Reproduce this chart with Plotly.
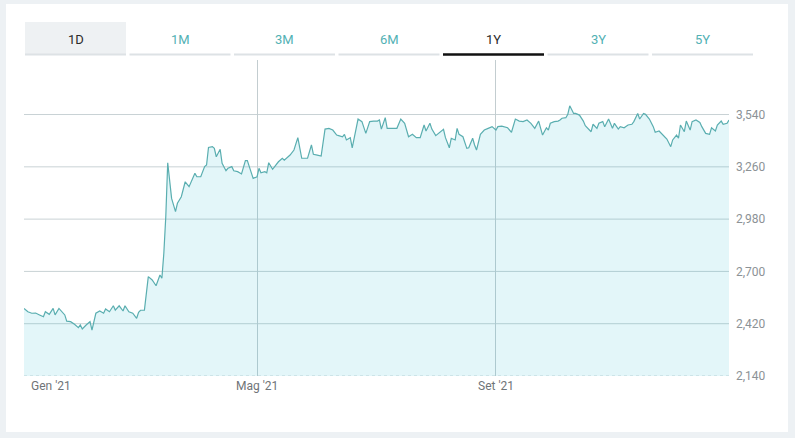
import plotly.graph_objects as go
import pandas as pd

# ---------------- data ----------------
day_offset = [0, 2, 4, 6, 8, 10, 11, 13, 15, 16, 18, 20, 21, 22, 24, 26, 28, 29, 30, 32,
              34, 35, 37, 39, 41, 42, 44, 46, 47, 49, 51, 52, 54, 56, 58, 59, 60, 62, 64, 66,
              68, 70, 71, 72, 73, 74, 75, 76, 78, 79, 81, 83, 85, 88, 89, 91, 93, 94, 95, 97,
              98, 99, 101, 102, 104, 105, 107, 108, 110, 112, 114, 115, 116, 118, 120, 121, 122, 124, 125, 126,
              128, 129, 131, 133, 134, 136, 137, 139, 141, 143, 146, 148, 149, 151, 153, 155, 157, 159, 161, 162,
              164, 165, 166, 168, 169, 172, 174, 176, 178, 180, 182, 183, 184, 186, 187, 190, 192, 194, 196, 198,
              200, 202, 204, 206, 207, 209, 210, 212, 214, 216, 217, 219, 220, 222, 223, 224, 226, 228, 229, 231,
              232, 233, 235, 237, 239, 241, 243, 244, 246, 249, 251, 253, 255, 257, 259, 261, 263, 265, 267, 269,
              270, 271, 273, 275, 276, 277, 279, 280, 281, 283, 284, 286, 288, 289, 292, 293, 295, 296, 298, 299,
              301, 303, 304, 306, 307, 309, 311, 313, 314, 316, 317, 319, 320, 322, 324, 325, 327, 329, 331, 333,
              334, 336, 337, 338, 340, 341, 343, 344, 346, 348, 349, 351, 353, 354, 356, 357, 359, 360, 362, 363]

price = [2502, 2484, 2476, 2477, 2467, 2457, 2484, 2470, 2502, 2467, 2502, 2476, 2467, 2434, 2431, 2417, 2399, 2413, 2392, 2413,
         2431, 2386, 2476, 2488, 2476, 2499, 2484, 2516, 2493, 2516, 2488, 2516, 2484, 2476, 2449, 2481, 2492, 2493, 2672, 2654,
         2623, 2681, 2663, 2797, 2993, 3282, 3172, 3091, 3020, 3065, 3100, 3180, 3154, 3225, 3207, 3207, 3261, 3270, 3364, 3368,
         3359, 3314, 3354, 3279, 3239, 3252, 3261, 3239, 3234, 3222, 3293, 3293, 3261, 3198, 3207, 3252, 3228, 3234, 3228, 3282,
         3247, 3261, 3287, 3306, 3296, 3314, 3323, 3350, 3416, 3306, 3306, 3377, 3327, 3323, 3318, 3462, 3466, 3457, 3430, 3427,
         3421, 3434, 3404, 3416, 3362, 3516, 3502, 3439, 3502, 3505, 3505, 3511, 3462, 3523, 3466, 3466, 3466, 3516, 3493, 3421,
         3434, 3416, 3416, 3484, 3452, 3493, 3462, 3427, 3445, 3461, 3416, 3362, 3413, 3404, 3466, 3434, 3421, 3359, 3362, 3413,
         3377, 3350, 3434, 3457, 3466, 3475, 3457, 3475, 3478, 3469, 3445, 3516, 3505, 3502, 3511, 3493, 3466, 3505, 3430, 3469,
         3457, 3493, 3502, 3505, 3511, 3520, 3523, 3541, 3587, 3546, 3546, 3537, 3505, 3480, 3448, 3488, 3466, 3493, 3502, 3475,
         3516, 3466, 3493, 3462, 3475, 3469, 3484, 3488, 3502, 3546, 3516, 3546, 3541, 3516, 3475, 3445, 3452, 3430, 3409, 3368,
         3404, 3430, 3413, 3484, 3448, 3505, 3457, 3502, 3511, 3498, 3475, 3439, 3434, 3469, 3452, 3484, 3505, 3488, 3493, 3511]

start_date = "2021-01-01"
end_date = "2021-12-30"
y_ticks = [2140, 2420, 2700, 2980, 3260, 3540]
y_range = [2140, 3832]
x_tick_dates = ["2021-01-01", "2021-05-01", "2021-09-01"]
x_tick_labels = ["Gen '21", "Mag '21", "Set '21"]
tabs = ["1D", "1M", "3M", "6M", "1Y", "3Y", "5Y"]
shaded_tab = "1D"
active_tab = "1Y"

dates = pd.Timestamp(start_date) + pd.to_timedelta(day_offset, unit="D")

# ---------------- layout helpers ----------------
W_FIG, H_FIG = 795, 438
L, R, T, B = 24, 66, 60, 62
PW, PH = W_FIG - L - R, H_FIG - T - B


def px_x(px):
    return (px - L) / PW


def px_y(py):
    return (H_FIG - B - py) / PH


LINE_COLOR = "#5aaeb0"
TEAL_TXT = "#52b1b4"
GRID = "#c9d2d5"

fig = go.Figure()
fig.add_trace(go.Scatter(
    x=dates, y=price, mode="lines",
    line=dict(color=LINE_COLOR, width=1.2),
    fill="tozeroy", fillcolor="rgba(0,175,200,0.11)",
    hoverinfo="x+y", showlegend=False,
))

shapes = []
# white card
shapes.append(dict(type="rect", xref="paper", yref="paper", layer="below",
                   x0=px_x(6), x1=px_x(788), y0=px_y(432), y1=px_y(4),
                   fillcolor="white", line=dict(width=0)))
# horizontal gridlines from tick values
for i, v in enumerate(y_ticks):
    shapes.append(dict(type="line", xref="paper", yref="y", layer="below",
                       x0=0, x1=1, y0=v, y1=v,
                       line=dict(color="#cfd6d8" if i == 0 else GRID,
                                 width=1, dash="dot" if i == 0 else "solid")))

annotations = []
tab_start, tab_pitch, tab_w = 25, 104.5, 101
for k, name in enumerate(tabs):
    x0 = tab_start + k * tab_pitch
    x1 = x0 + tab_w
    if name == shaded_tab:
        shapes.append(dict(type="rect", xref="paper", yref="paper",
                           x0=px_x(x0), x1=px_x(x1), y0=px_y(54), y1=px_y(22),
                           fillcolor="#eef1f3", line=dict(width=0), layer="below"))
    active = name == active_tab
    shapes.append(dict(type="line", xref="paper", yref="paper",
                       x0=px_x(x0), x1=px_x(x1), y0=px_y(54.5), y1=px_y(54.5),
                       line=dict(color="#111111" if active else "#dde2e5",
                                 width=2.5 if active else 2)))
    annotations.append(dict(xref="paper", yref="paper",
                            x=px_x((x0 + x1) / 2), y=px_y(39),
                            text=name, showarrow=False,
                            xanchor="center", yanchor="middle",
                            font=dict(family="Roboto", size=13,
                                      color="#2b2b2b" if name in (shaded_tab, active_tab) else TEAL_TXT)))

# x tick labels
for i, (d, lab) in enumerate(zip(x_tick_dates, x_tick_labels)):
    annotations.append(dict(xref="x", yref="paper", x=d, y=px_y(386),
                            text=lab, showarrow=False,
                            xanchor="center", yanchor="middle",
                            xshift=27 if i == 0 else 0,
                            font=dict(family="Roboto", size=12, color="#6f7478")))

fig.update_layout(
    width=W_FIG, height=H_FIG,
    margin=dict(l=L, r=R, t=T, b=B, autoexpand=False),
    paper_bgcolor="#edf1f4",
    plot_bgcolor="rgba(0,0,0,0)",
    shapes=shapes,
    annotations=annotations,
    showlegend=False,
    xaxis=dict(type="date", range=[start_date, end_date],
               tickvals=x_tick_dates, showticklabels=False,
               showgrid=True, gridcolor="#c3cdd0", gridwidth=1,
               zeroline=False, showline=False, ticks="", fixedrange=True),
    yaxis=dict(side="right", range=y_range, tickvals=y_ticks,
               tickformat=",", showgrid=False, zeroline=False,
               showline=False, ticks="", ticklabelstandoff=6,
               tickfont=dict(family="Roboto", size=12, color="#8c9296"),
               fixedrange=True),
)

fig.write_html("out.html")
